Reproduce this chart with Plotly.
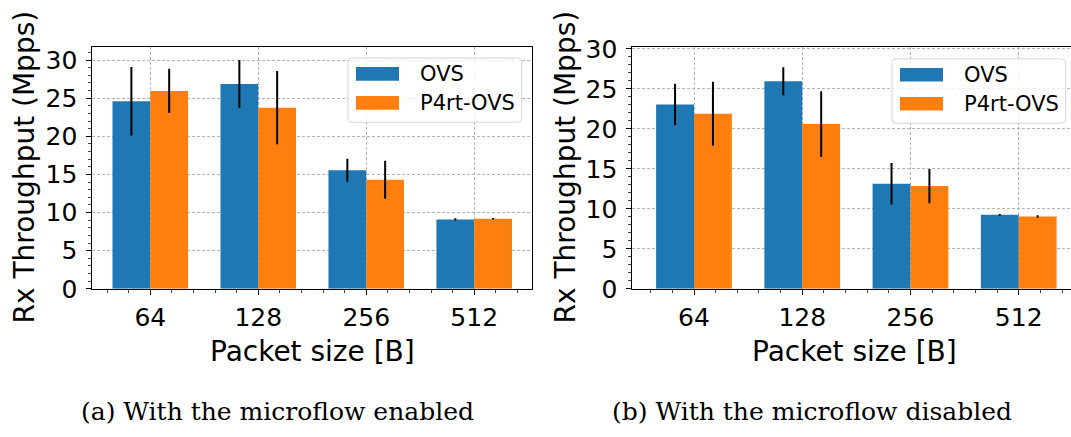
import plotly.graph_objects as go

W, H = 1071, 437

packet_sizes = ["64", "128", "256", "512"]
series_names = ["OVS", "P4rt-OVS"]

# (a) microflow enabled
ovs_enabled = [24.6, 26.85, 15.55, 9.1]
ovs_enabled_err = [4.5, 3.15, 1.5, 0.15]
p4_enabled = [25.95, 23.75, 14.3, 9.2]
p4_enabled_err = [2.9, 4.8, 2.5, 0.1]

# (b) microflow disabled
ovs_disabled = [23.05, 25.95, 13.15, 9.25]
ovs_disabled_err = [2.6, 1.75, 2.6, 0.12]
p4_disabled = [21.9, 20.6, 12.85, 9.05]
p4_disabled_err = [4.0, 4.1, 2.15, 0.15]

captions = ["(a) With the microflow enabled", "(b) With the microflow disabled"]
y_title = "Rx Throughput (Mpps)"
x_title = "Packet size [B]"
y_ticks = [0, 5, 10, 15, 20, 25, 30]

COLORS = ["#1f77b4", "#ff7f0e"]
xpos = list(range(len(packet_sizes)))


def px_x(v):
    return v / W


def px_y(v):
    return 1 - v / H


fig = go.Figure()

panels = [
    dict(xa="x", ya="y", vals=[ovs_enabled, p4_enabled], errs=[ovs_enabled_err, p4_enabled_err],
         legend_right=521.7, legend_top=48.0),
    dict(xa="x2", ya="y2", vals=[ovs_disabled, p4_disabled], errs=[ovs_disabled_err, p4_disabled_err],
         legend_right=1065.7, legend_top=49.0),
]

for p in panels:
    for name, vals, errs, col in zip(series_names, p["vals"], p["errs"], COLORS):
        fig.add_trace(go.Bar(
            x=xpos, y=vals, name=name, xaxis=p["xa"], yaxis=p["ya"], showlegend=False,
            marker=dict(color=col, line=dict(width=0)),
            error_y=dict(type="data", array=errs, visible=True, color="black",
                         thickness=2, width=0),
        ))

grid = dict(showgrid=True, gridcolor="#b5b5b5", griddash="3px,2px", gridwidth=1)
tickfont = dict(family="DejaVu Sans", size=25, color="black")

common_x = dict(tickmode="array", tickvals=xpos, ticktext=packet_sizes, tickfont=tickfont,
                ticks="outside", ticklen=5, tickcolor="black", showline=True, linecolor="black",
                linewidth=1, layer="above traces", zeroline=False, ticklabelstandoff=1,
                minor=dict(tick0=0, dtick=0.2, ticks="outside", ticklen=3, tickcolor="#444",
                           showgrid=False),
                **grid)
common_y = dict(tickmode="array", tickvals=y_ticks, tickfont=tickfont,
                ticks="outside", ticklen=5, tickcolor="black", showline=True, linecolor="black",
                linewidth=1, layer="above traces", zeroline=False, ticklabelstandoff=4,
                minor=dict(tick0=0, dtick=1, ticks="outside", ticklen=3, tickcolor="#444",
                           showgrid=False),
                **grid)

y_bot = px_y(294.7)

fig.update_layout(
    width=W, height=H, margin=dict(l=0, r=0, t=0, b=0),
    paper_bgcolor="white", plot_bgcolor="white",
    barmode="group", bargap=0.3, bargroupgap=0,
    showlegend=False,
    xaxis=dict(domain=[px_x(92.3), px_x(532)], range=[-0.537, 3.535], anchor="y",
               mirror=True, **common_x),
    yaxis=dict(domain=[y_bot, px_y(36)], range=[0, 31.75], anchor="x", mirror=True, **common_y),
    xaxis2=dict(domain=[px_x(632.3), 1.0], range=[-0.57, 3.483], anchor="y2",
                mirror=True, **common_x),
    yaxis2=dict(domain=[y_bot, px_y(36.7)], range=[0, 30.2], anchor="x2", mirror=False, **common_y),
)

# legends (matplotlib-style: wide patches, rounded light frame)
shapes = []
annotations = []
leg_font = dict(family="DejaVu Sans", size=21, color="black")
for p in panels:
    r, t = p["legend_right"], p["legend_top"]
    l, b = r - 173.7, t + 68.7
    rad = 4
    path = (f"M {px_x(l + rad)},{px_y(t)} L {px_x(r - rad)},{px_y(t)} "
            f"Q {px_x(r)},{px_y(t)} {px_x(r)},{px_y(t + rad)} "
            f"L {px_x(r)},{px_y(b - rad)} Q {px_x(r)},{px_y(b)} {px_x(r - rad)},{px_y(b)} "
            f"L {px_x(l + rad)},{px_y(b)} Q {px_x(l)},{px_y(b)} {px_x(l)},{px_y(b - rad)} "
            f"L {px_x(l)},{px_y(t + rad)} Q {px_x(l)},{px_y(t)} {px_x(l + rad)},{px_y(t)} Z")
    shapes.append(dict(type="path", path=path, xref="paper", yref="paper",
                       fillcolor="rgba(255,255,255,0.8)", line=dict(color="#d6d6d6", width=1),
                       layer="above"))
    for i, (name, col) in enumerate(zip(series_names, COLORS)):
        cy = t + 17.0 + i * 31.0
        shapes.append(dict(type="rect", xref="paper", yref="paper",
                           x0=px_x(r - 165.7), x1=px_x(r - 122.7),
                           y0=px_y(cy - 7.3), y1=px_y(cy + 7.3),
                           fillcolor=col, line=dict(width=0), layer="above"))
        annotations.append(dict(text=name, x=px_x(r - 104.2), y=px_y(cy), xanchor="left",
                                yanchor="middle", font=leg_font))

ann_font = dict(family="DejaVu Sans", size=28, color="black")
annotations += [
    dict(text=y_title, x=px_x(24), y=px_y(165), textangle=-90, font=ann_font),
    dict(text=y_title, x=px_x(565), y=px_y(165), textangle=-90, font=ann_font),
    dict(text=x_title, x=px_x(312), y=px_y(362), font=ann_font),
    dict(text=x_title, x=px_x(854), y=px_y(362), font=ann_font),
    dict(text=captions[0], x=px_x(277), y=px_y(426),
         font=dict(family="DejaVu Serif", size=25, color="black")),
    dict(text=captions[1], x=px_x(812), y=px_y(426),
         font=dict(family="DejaVu Serif", size=25, color="black")),
]
for a in annotations:
    a.setdefault("xanchor", "center")
    a.setdefault("yanchor", "middle")
    a.update(xref="paper", yref="paper", showarrow=False)

fig.update_layout(annotations=annotations, shapes=shapes)

fig.write_html("out.html")
